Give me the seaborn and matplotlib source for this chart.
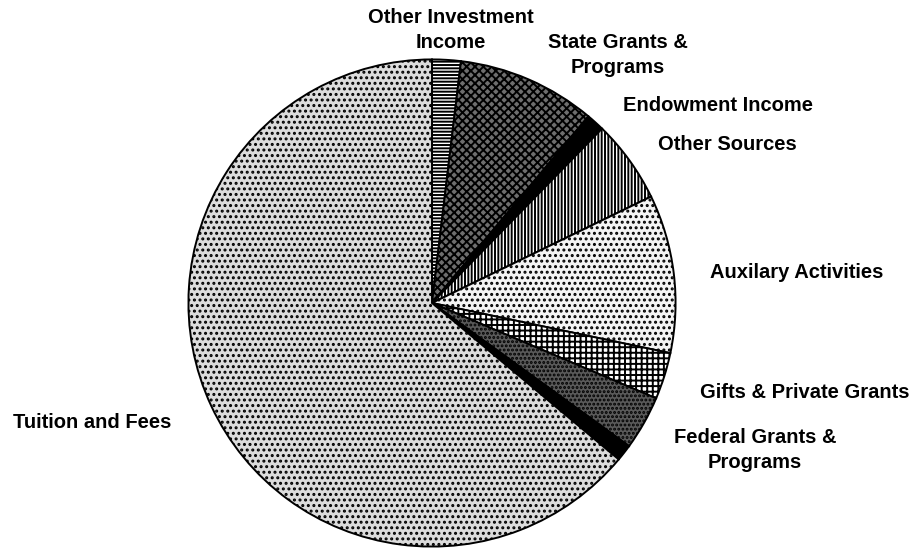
import matplotlib
matplotlib.use("Agg")
import matplotlib.pyplot as plt
import seaborn as sns

sns.set_theme(style="white")
plt.rcParams["font.family"] = ["Liberation Sans", "DejaVu Sans"]
plt.rcParams["hatch.linewidth"] = 1.4

# Revenue sources, clockwise from 12 o'clock (percent of total)
categories = [
    "Other Investment Income",
    "State Grants & Programs",
    "Endowment Income",
    "Other Sources",
    "Auxilary Activities",
    "Gifts & Private Grants",
    "Federal Grants & Programs",
    "",
    "Tuition and Fees",
]
shares = [1.9, 9.2, 1.2, 5.5, 10.5, 3.1, 3.6, 1.1, 63.9]

# Label text and label anchor points (pixels from top-left)
label_text = [
    "Other Investment\nIncome",
    "State Grants &\nPrograms",
    "Endowment Income",
    "Other Sources",
    "Auxilary Activities",
    "Gifts & Private Grants",
    "Federal Grants &\nPrograms",
    "Tuition and Fees",
]
label_xy = [(451, 30), (618, 55), (718, 105), (727, 144), (797, 273),
            (805, 392), (755, 450), (13, 423)]
label_ha = ["center"] * 7 + ["left"]

fills = ["white", "#6e6e6e", "black", "white", "#f4f4f4",
         "white", "#5a5a5a", "black", "#dcdcdc"]
hatches = ["-----", "xxxx", None, "|||||", "...", "+++", "....", None, "..."]

W, H = 921, 552
fig = plt.figure(figsize=(W / 100, H / 100), dpi=100)
fig.patch.set_facecolor("white")

cx, cy, r = 432, 303, 246
ax = fig.add_axes([(cx - r) / W, (H - cy - r) / H, 2 * r / W, 2 * r / H])
wedges, _ = ax.pie(shares, startangle=90, counterclock=False, radius=1,
                   wedgeprops=dict(edgecolor="black", linewidth=1.4))
for w, fc, h in zip(wedges, fills, hatches):
    w.set_facecolor(fc)
    if h:
        w.set_hatch(h)
ax.set_xlim(-1.01, 1.01)
ax.set_ylim(-1.01, 1.01)
ax.set_aspect("equal")
ax.axis("off")

for txt, (x, y), ha in zip(label_text, label_xy, label_ha):
    fig.text(x / W, 1 - y / H, txt, ha=ha, va="center", fontsize=14.5,
             fontweight="bold", color="black", linespacing=1.4)

fig.savefig("out.png", dpi=100, facecolor="white")
